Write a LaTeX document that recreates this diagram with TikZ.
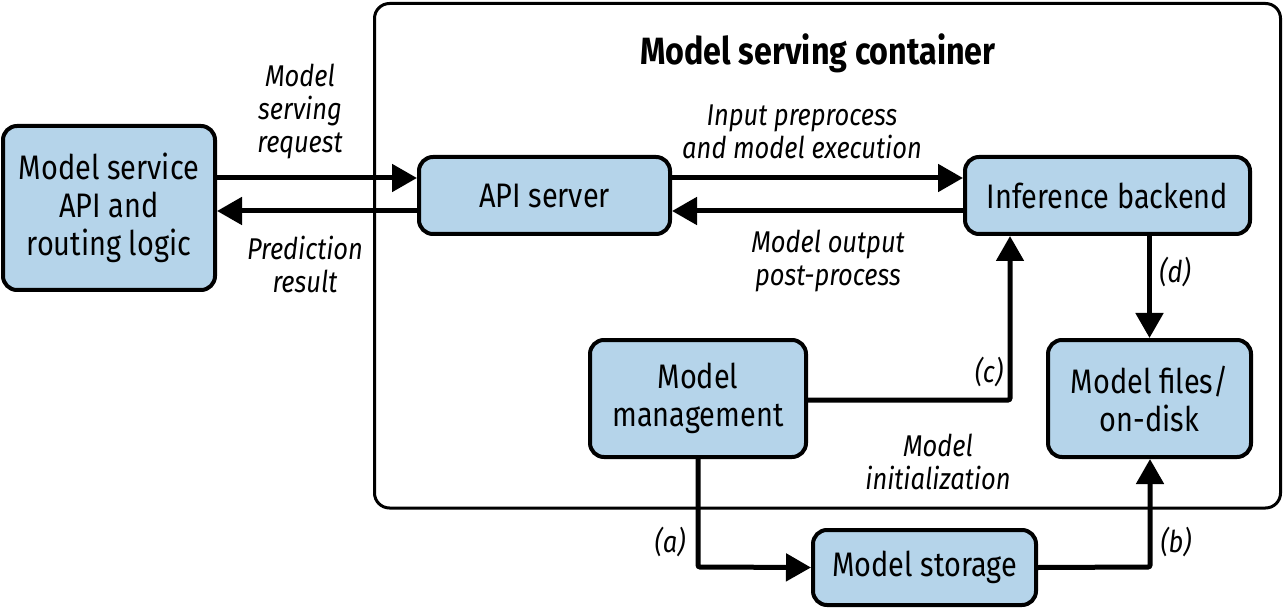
\documentclass[tikz,border=0pt]{standalone}
\usepackage{fontspec}
\setmainfont{Fira Sans}[FakeStretch=0.85]
\usetikzlibrary{arrows.meta,positioning}
\definecolor{boxfill}{RGB}{181,212,234}
\begin{document}
\begin{tikzpicture}[x=1pt,y=-1pt,
  box/.style={draw=black,line width=4pt,fill=boxfill,rounded corners=14pt,align=center,inner sep=0pt,
    font=\fontsize{34}{38}\selectfont},
  lab/.style={align=center,font=\fontsize{30}{33}\selectfont\itshape,inner sep=0pt},
  conn/.style={line width=5pt,-{Triangle[length=25pt,width=27pt]}},
]
\useasboundingbox (0,0) rectangle (1284,609);
\draw[line width=3pt,rounded corners=15pt] (374.5,3.5) rectangle (1280.5,508);
\node[font=\fontsize{38}{40}\selectfont\bfseries,inner sep=0pt,anchor=base] (title) at (818,65) {Model serving container};

\node[box,minimum width=212pt,minimum height=164pt] (svc) at (109,208) {Model service\\API and\\routing logic};
\node[box,minimum width=251pt,minimum height=77pt] (api) at (544.5,195.5) {API server};
\node[box,minimum width=285pt,minimum height=77pt] (inf) at (1107.5,195.5) {Inference backend};
\node[box,minimum width=216pt,minimum height=117pt] (mgmt) at (698,398.5) {Model\\management};
\node[box,minimum width=203pt,minimum height=117pt] (files) at (1149.5,398.5) {Model files/\\on-disk};
\node[box,minimum width=223pt,minimum height=75pt] (stor) at (924.5,567.5) {Model storage};

\coordinate (c1) at (1010,400);
\coordinate (a1) at (698,567);
\coordinate (b1) at (1150,567);

\draw[conn] (svc.east |- 0,178) -- (api.west |- 0,178);
\draw[conn] (api.west |- 0,211) -- (svc.east |- 0,211);
\draw[conn] (api.east |- 0,178) -- (inf.west |- 0,178);
\draw[conn] (inf.west |- 0,211) -- (api.east |- 0,211);
\draw[conn,rounded corners=2pt] (mgmt.east |- c1) -- (c1) -- (c1 |- inf.south);
\draw[conn] (inf.south -| files.north) -- (files.north);
\draw[conn,rounded corners=2pt] (mgmt.south) -- (a1) -- (stor.west);
\draw[conn,rounded corners=2pt] (stor.east) -- (b1) -- (b1 |- files.south);

\node[lab] (l1) at (300,111) {Model\\serving\\request};
\node[lab] (l2) at (305,264) {Prediction\\result};
\node[lab] (l3) at (802,132) {Input preprocess\\and model execution};
\node[lab] (l4) at (828,261) {Model output\\post-process};
\node[lab] (l5) at (989,372) {(c)};
\node[lab] (l6) at (1175,272) {(d)};
\node[lab] (l7) at (670,542) {(a)};
\node[lab] (l8) at (1176,542) {(b)};
\node[lab] (l9) at (938,462) {Model\\initialization};
\end{tikzpicture}
\end{document}
